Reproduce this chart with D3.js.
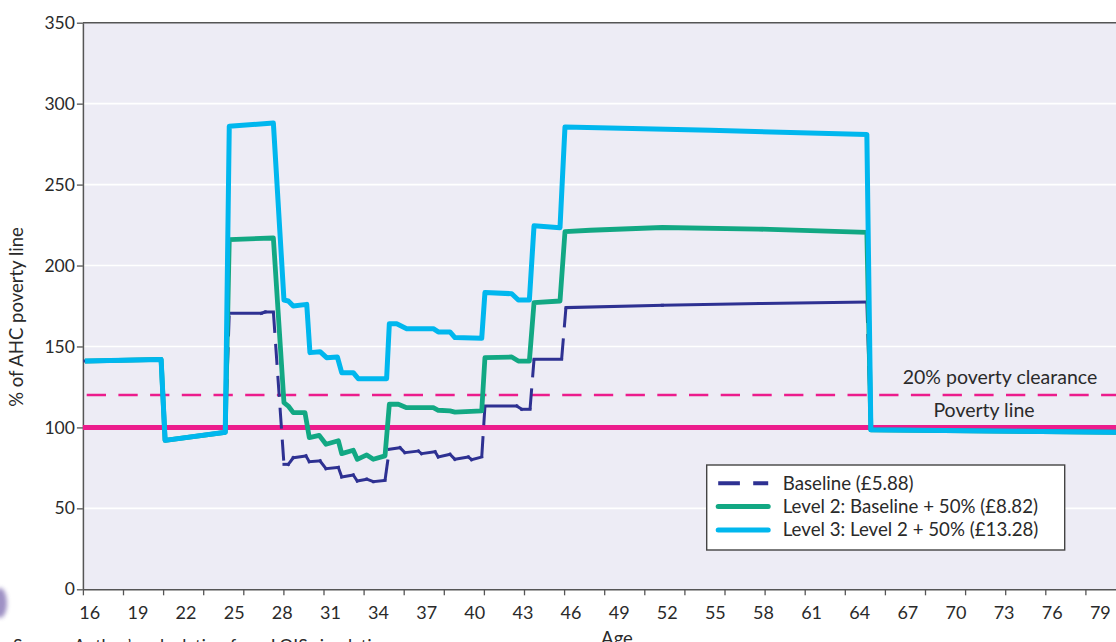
<!DOCTYPE html>
<html>
<head>
<meta charset="utf-8">
<script src="https://cdn.jsdelivr.net/npm/d3@7"></script>
<style>
  body { margin: 0; background: #fff; }
  svg { display: block; font-family: Lato, "Open Sans", sans-serif; }
</style>
</head>
<body>
<svg id="chart" width="1116" height="642"></svg>
<script>
// Income as % of the AHC poverty line, by age, for three wage levels.
// Ages before 25 and from 65 on are shared by all three wage levels.
const sharedEarlyAges   = [16, 20.75, 21, 24.75];
const sharedEarlyValues = [141, 142, 92, 97];
const sharedLateAges    = [65, 80.5];
const sharedLateValues  = [98.5, 97];

// Baseline (£5.88)
const baselineAges = [25, 27, 27.25, 27.75, 28.41, 28.68, 28.99, 29.78, 29.99, 30.66, 31.03, 31.8,
  32.01, 32.73, 32.98, 33.57, 33.98, 34.71, 34.98, 35.64, 35.95, 36.79, 36.99, 37.83, 38.03,
  38.76, 39.07, 39.9, 40.11, 40.74, 40.94, 42.92, 43.23, 43.75, 44, 45.72, 45.99, 52, 58, 64.75];
const baselineValues = [170.5, 170.5, 171.3, 171.3, 77.2, 77.2, 81.3, 82.4, 78.8, 79.3, 74.5, 75.3,
  69.4, 70.6, 66.9, 68, 66.5, 67.3, 86.5, 87.5, 84.4, 85.4, 83.8, 85, 81.7,
  83.4, 80.3, 81.7, 80.1, 81.7, 113.2, 113.2, 111.2, 111.2, 142.1, 142.1, 174, 175.5, 176.5, 177.5];

// Level 2: Baseline + 50% (£8.82)
const level2Ages = [25, 27.75, 28.41, 28.68, 28.99, 29.72, 29.99, 30.61, 31.03, 31.8, 32.01, 32.73,
  32.98, 33.57, 33.98, 34.71, 34.98, 35.54, 36.06, 37.72, 38.03, 38.76, 39.07, 40.74, 40.94,
  42.61, 43.02, 43.71, 44, 45.62, 45.93, 47.5, 52, 58, 64.75];
const level2Values = [216, 217, 115.3, 113.2, 109.1, 109.1, 93.7, 95.1, 89.6, 91.8, 83.8, 85.9,
  80.3, 83, 80.3, 82.4, 114.3, 114.3, 112.2, 112.2, 110.6, 110.2, 109.5, 110.2, 143.1,
  143.5, 141, 141, 177.1, 178.1, 220.9, 221.8, 223.5, 222.5, 220.5];

// Level 3: Level 2 + 50% (£13.28)
const level3Ages = [25, 27.75, 28.41, 28.68, 28.99, 29.83, 30.03, 30.66, 31.07, 31.74, 32.01, 32.73,
  33.04, 34.81, 34.98, 35.44, 36.06, 37.72, 38.03, 38.76, 39.07, 40.74, 40.94, 42.61, 43.02,
  43.71, 44, 45.62, 45.93, 55, 64.75];
const level3Values = [286, 288, 178.7, 178.1, 175, 176, 146.2, 146.8, 143.1, 143.5, 133.8, 133.8,
  130.1, 130.1, 164.1, 164, 161, 161, 159, 159, 155.5, 155.1, 183.3, 182.6, 178.7,
  178.7, 224.5, 223.4, 285.6, 283.5, 281];

const povertyLine = 100;
const clearanceLine = 120;

const yTickValues = [0, 50, 100, 150, 200, 250, 300, 350];
const ageLabels = [16, 19, 22, 25, 28, 31, 34, 37, 40, 43, 46, 49, 52, 55, 58, 61, 64, 67, 70, 73, 76, 79];

const legendLabels = ["Baseline (£5.88)", "Level 2: Baseline + 50% (£8.82)", "Level 3: Level 2 + 50% (£13.28)"];

// ---- layout ----
const plot = { left: 82.9, top: 22.7, right: 1124, bottom: 589.3 };
const pxPerYear = 16.04;
const COL = { base: "#2E3192", l2: "#12A883", l3: "#00B7EE", pink: "#EC1C8C", axis: "#555", text: "#2a2a2a", bg: "#EDECF5" };

const svg = d3.select("#chart");
const defs = svg.append("defs");
defs.append("filter").attr("id", "soft")
  .attr("x", "-100%").attr("y", "-100%").attr("width", "300%").attr("height", "300%")
  .append("feGaussianBlur").attr("stdDeviation", 2.2);

const x = d3.scaleLinear()
  .domain([15.875, 15.875 + (plot.right - plot.left) / pxPerYear])
  .range([plot.left, plot.right]);
const y = d3.scaleLinear().domain([0, 350]).range([plot.bottom, plot.top]);

function joinSeries(ages, values) {
  const a = sharedEarlyAges.concat(ages, sharedLateAges);
  const v = sharedEarlyValues.concat(values, sharedLateValues);
  return a.map((age, i) => [age, v[i]]);
}
const baseline = joinSeries(baselineAges, baselineValues);
const level2 = joinSeries(level2Ages, level2Values);
const level3 = joinSeries(level3Ages, level3Values);

// plot background
svg.append("rect")
  .attr("x", plot.left).attr("y", plot.top)
  .attr("width", plot.right - plot.left).attr("height", plot.bottom - plot.top)
  .attr("fill", COL.bg);

// horizontal gridlines
svg.append("g").selectAll("line")
  .data(yTickValues.filter(v => v > 0 && v < 350))
  .join("line")
  .attr("x1", plot.left).attr("x2", plot.right)
  .attr("y1", d => y(d)).attr("y2", d => y(d))
  .attr("stroke", "#fff").attr("stroke-width", 1.6);

// top frame line
svg.append("line")
  .attr("x1", plot.left).attr("x2", plot.right)
  .attr("y1", plot.top).attr("y2", plot.top)
  .attr("stroke", COL.axis).attr("stroke-width", 1.5);

// y axis
const yAxis = svg.append("g")
  .attr("transform", `translate(${plot.left},0)`)
  .call(d3.axisLeft(y).tickValues(yTickValues).tickSize(6).tickSizeOuter(0).tickPadding(2));
yAxis.select(".domain").attr("stroke", COL.axis).attr("stroke-width", 1.5);
yAxis.selectAll(".tick line").attr("stroke", COL.axis).attr("stroke-width", 1.3);
yAxis.selectAll(".tick text").attr("fill", COL.text).style("font-size", "17.5px").style("font-family", "Lato, sans-serif");

// x axis: tick marks every 2.5 years
const xTickMarks = d3.range(15.875, x.domain()[1], 2.5);
const xAxisMarks = svg.append("g")
  .attr("transform", `translate(0,${plot.bottom})`)
  .call(d3.axisBottom(x).tickValues(xTickMarks).tickFormat("").tickSize(6).tickSizeOuter(0));
xAxisMarks.select(".domain").attr("stroke", COL.axis).attr("stroke-width", 1.5);
xAxisMarks.selectAll(".tick line").attr("stroke", COL.axis).attr("stroke-width", 1.3);

// x axis: age labels every 3 years
const xAxisLabels = svg.append("g")
  .attr("transform", `translate(4.4,${plot.bottom})`)
  .call(d3.axisBottom(x).tickValues(ageLabels).tickSize(0).tickPadding(17));
xAxisLabels.select(".domain").remove();
xAxisLabels.selectAll(".tick text").attr("fill", COL.text).style("font-size", "18px").style("font-family", "Lato, sans-serif");

// axis titles
svg.append("text")
  .attr("transform", `translate(23,317) rotate(-90)`)
  .attr("text-anchor", "middle")
  .attr("fill", COL.text).style("font-size", "18.5px")
  .text("% of AHC poverty line");
svg.append("text")
  .attr("x", 617).attr("y", 645)
  .attr("text-anchor", "middle")
  .attr("fill", COL.text).style("font-size", "18.5px")
  .text("Age");

// source note (runs off the bottom edge)
svg.append("text")
  .attr("x", 13).attr("y", 652)
  .attr("fill", COL.text).style("font-size", "17.5px")
  .text("Source: Author’s calculation from LOIS simulation");

// faint logo fragment at the lower left edge
svg.append("ellipse")
  .attr("cx", 0).attr("cy", 603).attr("rx", 7).attr("ry", 15)
  .attr("fill", "#8676b6").attr("opacity", 0.8)
  .attr("filter", "url(#soft)");

// poverty reference lines
svg.append("line")
  .attr("x1", plot.left).attr("x2", plot.right)
  .attr("y1", y(clearanceLine)).attr("y2", y(clearanceLine))
  .attr("stroke", COL.pink).attr("stroke-width", 2.6)
  .attr("stroke-dasharray", "19.3 12.4").attr("stroke-dashoffset", 27.9);
svg.append("line")
  .attr("x1", plot.left).attr("x2", plot.right)
  .attr("y1", y(povertyLine)).attr("y2", y(povertyLine))
  .attr("stroke", COL.pink).attr("stroke-width", 5);

svg.append("text")
  .attr("x", 1000).attr("y", 384)
  .attr("text-anchor", "middle")
  .attr("fill", COL.text).style("font-size", "19.5px")
  .text("20% poverty clearance");
svg.append("text")
  .attr("x", 984).attr("y", 417)
  .attr("text-anchor", "middle")
  .attr("fill", COL.text).style("font-size", "19.5px")
  .text("Poverty line");

// series
const line = d3.line().x(d => x(d[0])).y(d => y(d[1]));

// baseline: dashed on the steep jumps, solid along the gently sloping runs
const isSteep = d => {
  const dx = Math.abs(x(d[1][0]) - x(d[0][0]));
  const dy = Math.abs(y(d[1][1]) - y(d[0][1]));
  return dy > 25 && dy > dx;
};
svg.append("g").selectAll("line")
  .data(d3.pairs(baseline))
  .join("line")
  .attr("x1", d => x(d[0][0])).attr("y1", d => y(d[0][1]))
  .attr("x2", d => x(d[1][0])).attr("y2", d => y(d[1][1]))
  .attr("stroke", COL.base).attr("stroke-width", 3)
  .attr("stroke-dasharray", d => isSteep(d) ? "21 11" : null)
  .attr("stroke-linecap", d => isSteep(d) ? "butt" : "square");

svg.append("path").datum(level2)
  .attr("d", line).attr("fill", "none")
  .attr("stroke", COL.l2).attr("stroke-width", 4.8).attr("stroke-linejoin", "round");
svg.append("path").datum(level3)
  .attr("d", line).attr("fill", "none")
  .attr("stroke", COL.l3).attr("stroke-width", 5).attr("stroke-linejoin", "round");

// legend
const legend = svg.append("g").attr("transform", "translate(706.7,465)");
legend.append("rect")
  .attr("width", 358).attr("height", 85)
  .attr("fill", "#fff").attr("stroke", "#444").attr("stroke-width", 1.4);
const legendStyles = [
  { color: COL.base, width: 4, dash: "21.7 13.3" },
  { color: COL.l2, width: 5, dash: null },
  { color: COL.l3, width: 5, dash: null }
];
const rows = legend.selectAll("g.row")
  .data(legendLabels)
  .join("g").attr("class", "row")
  .attr("transform", (d, i) => `translate(0,${18.3 + i * 23.3})`);
rows.append("line")
  .attr("x1", 11.5).attr("x2", 61.5)
  .attr("stroke", (d, i) => legendStyles[i].color)
  .attr("stroke-width", (d, i) => legendStyles[i].width)
  .attr("stroke-linecap", (d, i) => legendStyles[i].dash ? "butt" : "round")
  .attr("stroke-dasharray", (d, i) => legendStyles[i].dash);
rows.append("text")
  .attr("x", 76).attr("dy", "0.35em")
  .attr("fill", COL.text).style("font-size", "18.7px")
  .text(d => d);
</script>
</body>
</html>
